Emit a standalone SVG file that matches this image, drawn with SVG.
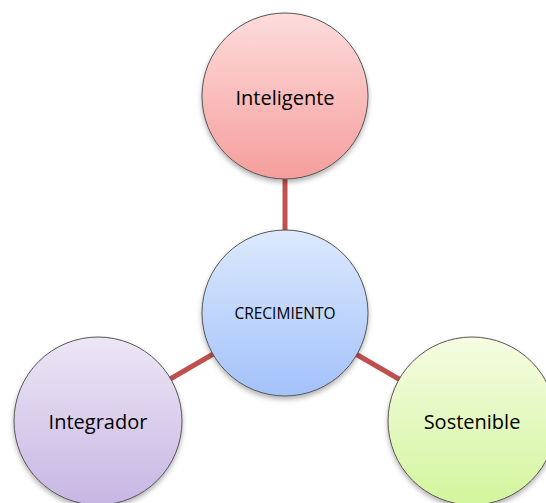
<svg xmlns="http://www.w3.org/2000/svg" width="546" height="503" viewBox="0 0 546 503">
<defs>
<linearGradient id="gRed" x1="0" y1="0" x2="0" y2="1"><stop offset="0" stop-color="#fddcdc"/><stop offset="1" stop-color="#f59e9c"/></linearGradient>
<linearGradient id="gBlue" x1="0" y1="0" x2="0" y2="1"><stop offset="0" stop-color="#dde9fd"/><stop offset="1" stop-color="#a3c2fa"/></linearGradient>
<linearGradient id="gPurple" x1="0" y1="0" x2="0" y2="1"><stop offset="0" stop-color="#ede6f5"/><stop offset="1" stop-color="#c7b6e3"/></linearGradient>
<linearGradient id="gGreen" x1="0" y1="0" x2="0" y2="1"><stop offset="0" stop-color="#f5fce3"/><stop offset="1" stop-color="#d3f59c"/></linearGradient>
<filter id="sh" x="-20%" y="-20%" width="140%" height="150%"><feDropShadow dx="0" dy="3" stdDeviation="2.5" flood-color="#000" flood-opacity="0.3"/></filter>
</defs>
<style>
.node circle{stroke:#555;stroke-width:1;filter:url(#sh)}
.lbl{font-family:"Open Sans","Noto Sans","Liberation Sans",sans-serif;font-size:20px;fill:#000;text-anchor:middle;dominant-baseline:central}
.small{font-size:15.5px}
.conn line{stroke:#c0504d;stroke-width:5}
</style>
<rect width="546" height="503" fill="#fff"/>
<g id="connectors" class="conn">
<line x1="285" y1="170" x2="285" y2="240"/>
<line x1="215" y1="353" x2="165" y2="382"/>
<line x1="354" y1="353" x2="404" y2="382"/>
</g>
<g id="node-inteligente" class="node"><circle cx="285" cy="96" r="83" fill="url(#gRed)"/><text class="lbl" x="285" y="97">Inteligente</text></g>
<g id="node-crecimiento" class="node"><circle cx="285" cy="313" r="83" fill="url(#gBlue)"/><text class="lbl small" x="285" y="313">CRECIMIENTO</text></g>
<g id="node-integrador" class="node"><circle cx="98" cy="421" r="84" fill="url(#gPurple)"/><text class="lbl" x="98" y="421">Integrador</text></g>
<g id="node-sostenible" class="node"><circle cx="472" cy="421" r="84" fill="url(#gGreen)"/><text class="lbl" x="472" y="421">Sostenible</text></g>
</svg>
